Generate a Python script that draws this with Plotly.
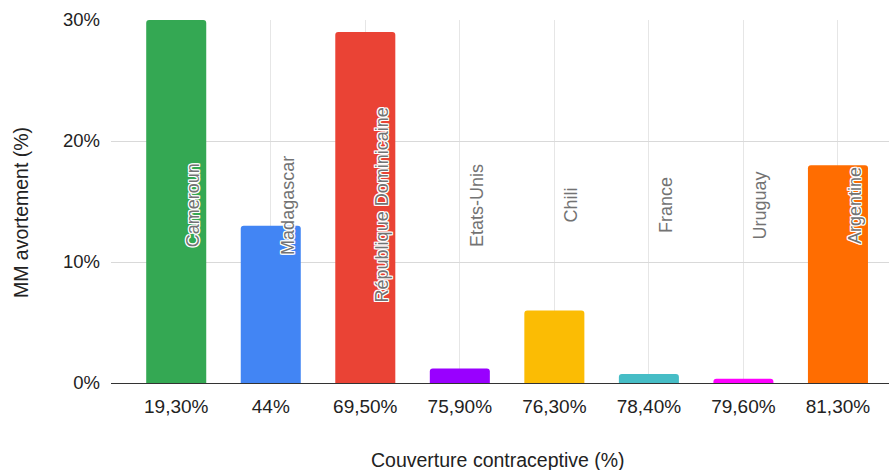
import plotly.graph_objects as go

# Contraceptive coverage (x categories), country names and abortion share of maternal mortality
coverage = ["19,30%", "44%", "69,50%", "75,90%", "76,30%", "78,40%", "79,60%", "81,30%"]
countries = ["Cameroun", "Madagascar", "République Dominicaine", "Etats-Unis",
             "Chili", "France", "Uruguay", "Argentine"]
mm_abortion = [30, 13, 29, 1.2, 6, 0.75, 0.35, 18]
colors = ["#34a853", "#4285f4", "#ea4335", "#9900ff",
          "#fbbc04", "#46bdc6", "#ff00ff", "#ff6d01"]
y_ticks = [0, 10, 20, 30]
y_tick_text = ["0%", "10%", "20%", "30%"]

FONT = "Liberation Sans, Arial, sans-serif"
LABEL_Y = 14.7  # vertical centre of the rotated country labels (data units)

fig = go.Figure(
    go.Bar(
        x=coverage,
        y=mm_abortion,
        marker=dict(color=colors, line=dict(width=0)),
        width=0.635,
        hoverinfo="skip",
    )
)

halo = ("1px 0 0 #fff, -1px 0 0 #fff, 0 1px 0 #fff, 0 -1px 0 #fff, "
        "1px 1px 0 #fff, -1px -1px 0 #fff, 1px -1px 0 #fff, -1px 1px 0 #fff")
for cat, name in zip(coverage, countries):
    fig.add_annotation(
        x=cat, y=LABEL_Y, text=name, showarrow=False, textangle=-90,
        xshift=17, xanchor="center", yanchor="middle",
        font=dict(family=FONT, size=18, color="#737373", shadow=halo),
    )

# Axis titles
fig.add_annotation(
    xref="paper", yref="paper", x=0, y=0.468, xshift=-90,
    text="MM avortement (%)", showarrow=False, textangle=-90,
    xanchor="center", yanchor="middle",
    font=dict(family=FONT, size=19.5, color="#222222"),
)
fig.add_annotation(
    xref="paper", yref="paper", x=0.497, y=-0.212,
    text="Couverture contraceptive (%)", showarrow=False,
    xanchor="center", yanchor="middle",
    font=dict(family=FONT, size=19.5, color="#222222"),
)

fig.update_layout(
    width=889, height=470,
    margin=dict(l=111, r=0, t=20, b=87),
    paper_bgcolor="white", plot_bgcolor="white",
    barcornerradius=3,
    showlegend=False,
    font=dict(family=FONT, color="#222222"),
    xaxis=dict(
        type="category", range=[-0.69, 7.54],
        showgrid=True, gridcolor="#e6e6e6", gridwidth=1,
        showline=True, linecolor="#333333", linewidth=1.3,
        ticks="", tickfont=dict(size=19, color="#222222"), ticklabelstandoff=6,
        fixedrange=True,
    ),
    yaxis=dict(
        range=[0, 30], tickmode="array", tickvals=y_ticks, ticktext=y_tick_text,
        showgrid=True, gridcolor="#d9d9d9", gridwidth=1,
        zeroline=False, showline=False, ticks="",
        tickfont=dict(size=18.5, color="#222222"), ticklabelstandoff=10,
        fixedrange=True,
    ),
)

fig.write_html("out.html", config={"displayModeBar": False})
